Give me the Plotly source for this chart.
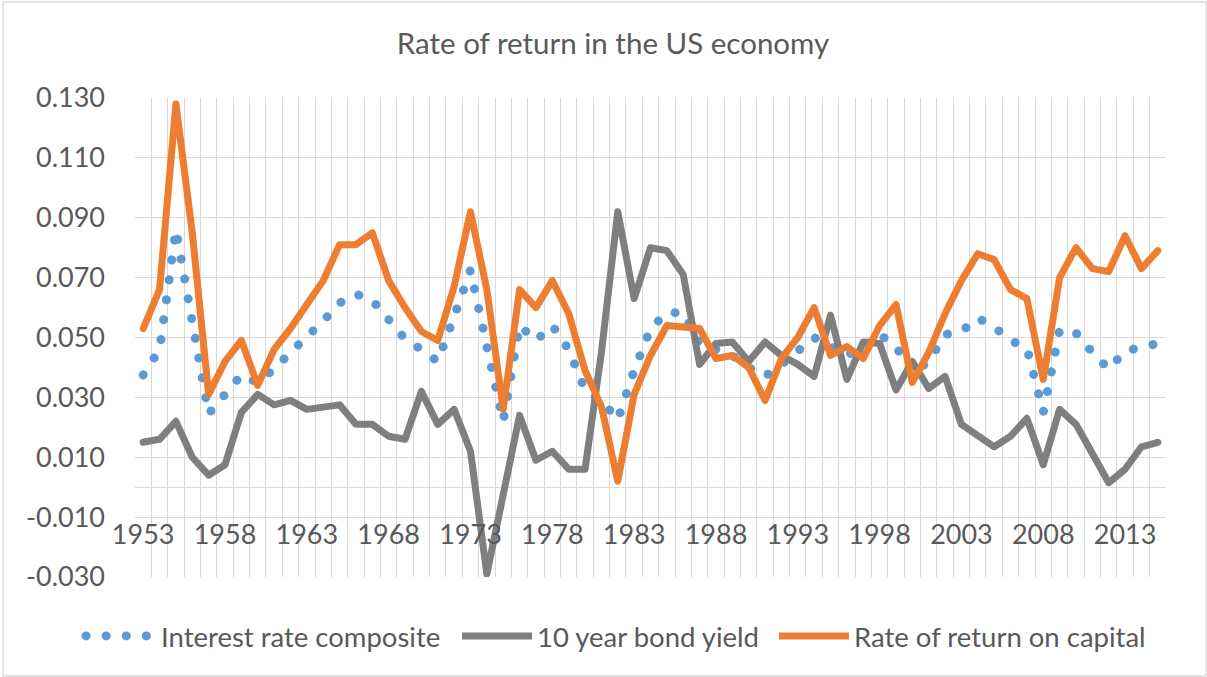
import plotly.graph_objects as go

years = list(range(1953, 2016))

interest_rate_composite = [
    0.0375, 0.046, 0.086, 0.055, 0.0245, 0.031, 0.0375, 0.035, 0.0395, 0.045,
    0.050, 0.0555, 0.0615, 0.0645, 0.0625, 0.0555, 0.0495, 0.046, 0.042, 0.057,
    0.0725, 0.047, 0.022, 0.054, 0.049, 0.054, 0.046, 0.0325, 0.029, 0.0225,
    0.039, 0.053, 0.0583, 0.0583, 0.048, 0.046, 0.044, 0.040, 0.037, 0.041,
    0.046, 0.050, 0.047, 0.044, 0.047, 0.051, 0.047, 0.038, 0.042, 0.051,
    0.052, 0.0565, 0.0535, 0.049, 0.0465, 0.025, 0.0525, 0.0515, 0.045, 0.0395,
    0.0455, 0.047, 0.048,
]

bond_yield_10y = [
    0.015, 0.016, 0.022, 0.010, 0.004, 0.0075, 0.025, 0.031, 0.0275, 0.029,
    0.026, 0.0265, 0.0275, 0.021, 0.021, 0.017, 0.016, 0.032, 0.021, 0.026,
    0.012, -0.029, -0.003, 0.024, 0.009, 0.012, 0.006, 0.006, 0.045, 0.092,
    0.063, 0.080, 0.079, 0.071, 0.041, 0.048, 0.0485, 0.042, 0.0485, 0.044,
    0.041, 0.037, 0.0575, 0.036, 0.0485, 0.048, 0.0325, 0.042, 0.033, 0.037,
    0.021, 0.017, 0.0135, 0.017, 0.023, 0.0075, 0.026, 0.021, 0.011, 0.0015,
    0.006, 0.0135, 0.015,
]

return_on_capital = [
    0.053, 0.066, 0.128, 0.085, 0.031, 0.042, 0.049, 0.034, 0.046, 0.053,
    0.061, 0.069, 0.081, 0.081, 0.085, 0.069, 0.060, 0.052, 0.049, 0.067,
    0.092, 0.066, 0.026, 0.066, 0.060, 0.069, 0.058, 0.039, 0.027, 0.002,
    0.031, 0.044, 0.054, 0.0535, 0.053, 0.043, 0.044, 0.040, 0.029, 0.043,
    0.050, 0.060, 0.044, 0.047, 0.043, 0.054, 0.061, 0.035, 0.045, 0.058,
    0.069, 0.078, 0.076, 0.066, 0.063, 0.036, 0.070, 0.080, 0.073, 0.072,
    0.084, 0.073, 0.079,
]

x_tick_years = [1953, 1958, 1963, 1968, 1973, 1978, 1983, 1988, 1993, 1998, 2003, 2008, 2013]
x_tick_text = [str(y) for y in x_tick_years]
y_tick_vals = [-0.03, -0.01, 0.01, 0.03, 0.05, 0.07, 0.09, 0.11, 0.13]
y_tick_text = ["-0.030", "-0.010", "0.010", "0.030", "0.050", "0.070", "0.090", "0.110", "0.130"]

FONT = "Lato"
TXT = "#595959"
GRID = "#D9D9D9"
W, H = 1207, 677
L, R, T, B = 135, 41, 98, 100
PW, PH = W - L - R, H - T - B

fig = go.Figure()
fig.add_trace(go.Scatter(
    x=years, y=interest_rate_composite, name="Interest rate composite",
    mode="lines", line=dict(color="#5B9BD5", width=9, dash="0.1px,20px"),
    hoverinfo="skip", legend="legend"))
fig.add_trace(go.Scatter(
    x=years, y=bond_yield_10y, name="10 year bond yield",
    mode="lines", line=dict(color="#7F7F7F", width=7), hoverinfo="skip",
    legend="legend2"))
fig.add_trace(go.Scatter(
    x=years, y=return_on_capital, name="Rate of return on capital",
    mode="lines", line=dict(color="#ED7D31", width=7), hoverinfo="skip",
    legend="legend3"))

def leg(xpix):
    return dict(orientation="h", xref="container", x=xpix / W, xanchor="left",
                yref="container", y=1 - 636 / H, yanchor="middle",
                font=dict(family=FONT, size=27.5, color=TXT),
                bgcolor="rgba(0,0,0,0)", itemwidth=70)

fig.update_layout(
    width=W, height=H,
    margin=dict(l=L, r=R, t=T, b=B, autoexpand=False),
    paper_bgcolor="white", plot_bgcolor="white",
    font=dict(family=FONT, color=TXT, size=27),
    title=dict(text="Rate of return in the US economy", x=613 / W, xanchor="center",
               y=1 - 44 / H, yanchor="middle", automargin=False,
               font=dict(family=FONT, size=29.5, color=TXT)),
    showlegend=True,
    legend=leg(81), legend2=leg(457), legend3=leg(774),
    shapes=[dict(type="rect", xref="paper", yref="paper",
                 x0=(3 - L) / PW, x1=(1206 - L) / PW,
                 y0=(H - B - 676) / PH, y1=(H - B - 2) / PH,
                 line=dict(color=GRID, width=1.3), fillcolor="rgba(0,0,0,0)",
                 layer="below")],
)

fig.update_xaxes(
    type="linear", range=[1952.5, 2015.5], automargin=False,
    tickmode="array", tickvals=x_tick_years, ticktext=x_tick_text,
    showgrid=False, zeroline=False, showline=False, ticks="",
    anchor="free", position=0.128,
    tickfont=dict(family=FONT, size=27, color=TXT),
    minor=dict(tick0=1952.5, dtick=1, showgrid=True, gridcolor=GRID, gridwidth=1.2, ticks=""),
)
fig.update_yaxes(
    range=[-0.03, 0.13], tickmode="array", tickvals=y_tick_vals, ticktext=y_tick_text,
    automargin=False,
    showgrid=True, gridcolor=GRID, gridwidth=1.2,
    zeroline=True, zerolinecolor=GRID, zerolinewidth=1.2,
    showline=False, ticks="", ticklabelstandoff=29,
    tickfont=dict(family=FONT, size=27, color=TXT),
)

post = """
var s=document.createElement('style');
s.innerHTML='html,body{margin:0 !important;padding:0 !important;overflow:hidden;} .scatterlayer path.js-line{stroke-linecap:round !important;stroke-linejoin:round !important;} .legend path{stroke-linecap:round !important;stroke-linejoin:round !important;} .modebar-container{display:none !important;}';
document.head.appendChild(s);
"""
fig.write_html("out.html", post_script=post, config={"displayModeBar": False})
